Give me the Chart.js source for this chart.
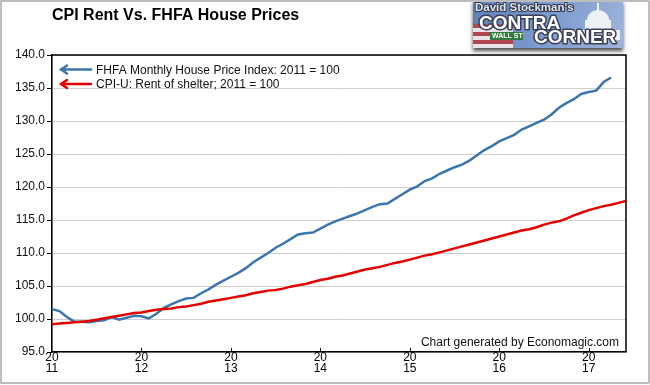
<!DOCTYPE html>
<html>
<head>
<meta charset="utf-8">
<script src="https://cdn.jsdelivr.net/npm/chart.js@4.4.0/dist/chart.umd.min.js"></script>
<style>
  body { margin: 0; background: #fff; }
  canvas { display: block; }
</style>
</head>
<body>
<canvas id="myChart" width="650" height="385"></canvas>
<script>
// x axis: monthly, Jan 2011 .. Jun 2017
var years = ['2011', '2012', '2013', '2014', '2015', '2016', '2017'];
var monthNums = ['01', '02', '03', '04', '05', '06', '07', '08', '09', '10', '11', '12'];
var months = [];
years.forEach(function (y) {
  monthNums.forEach(function (m) {
    if (months.length < 78) months.push(y + '-' + m);
  });
});

var yTicks = [95, 100, 105, 110, 115, 120, 125, 130, 135, 140];

var fhfaLabel = 'FHFA Monthly House Price Index: 2011 = 100';
var cpiLabel = 'CPI-U: Rent of shelter; 2011 = 100';

// FHFA house price index, 2011 = 100 (ends Apr 2017)
var fhfa = [
  101.5, 101.2, 100.3, 99.6, 99.6, 99.5, 99.7, 99.8, 100.3, 99.9, 100.2, 100.5,
  100.4, 100.1, 100.8, 101.7, 102.2, 102.7, 103.1, 103.2, 103.9, 104.5, 105.2, 105.8,
  106.4, 107.0, 107.7, 108.6, 109.3, 110.0, 110.8, 111.4, 112.1, 112.8, 113.0, 113.1,
  113.7, 114.3, 114.8, 115.2, 115.6, 116.0, 116.5, 117.0, 117.4, 117.5, 118.2, 118.9,
  119.6, 120.1, 120.9, 121.3, 122.0, 122.5, 123.0, 123.4, 124.0, 124.8, 125.6, 126.2,
  126.9, 127.4, 127.9, 128.7, 129.2, 129.7, 130.2, 131.0, 132.0, 132.7, 133.3, 134.1,
  134.4, 134.6, 135.9, 136.6
];

// CPI-U rent of shelter, 2011 = 100
var cpiRent = [
  99.2, 99.3, 99.4, 99.5, 99.6, 99.7, 99.9, 100.1, 100.3, 100.5, 100.7, 100.9,
  101.0, 101.2, 101.4, 101.5, 101.6, 101.8, 101.9, 102.1, 102.3, 102.6, 102.8, 103.0,
  103.2, 103.4, 103.6, 103.9, 104.1, 104.3, 104.4, 104.6, 104.9, 105.1, 105.3, 105.6,
  105.9, 106.1, 106.4, 106.6, 106.9, 107.2, 107.5, 107.7, 107.9, 108.2, 108.5, 108.7,
  109.0, 109.3, 109.6, 109.8, 110.1, 110.4, 110.7, 111.0, 111.3, 111.6, 111.9, 112.2,
  112.5, 112.8, 113.1, 113.4, 113.6, 113.9, 114.3, 114.6, 114.8, 115.2, 115.7, 116.1,
  116.5, 116.8, 117.1, 117.3, 117.6, 117.9
];

var BLUE = '#3b76b1';
var RED = '#e50000';
var FONT = '"Liberation Sans", Arial, sans-serif';

Chart.defaults.font.family = FONT;
Chart.defaults.font.size = 12;
Chart.defaults.color = '#111';

function isJan(i) {
  return months[i] && months[i].slice(5) === '01';
}

function arrow(ctx, x1, x2, y, color) {
  ctx.strokeStyle = color;
  ctx.lineWidth = 2.5;
  ctx.lineCap = 'round';
  ctx.beginPath();
  ctx.moveTo(x2, y);
  ctx.lineTo(x1, y);
  ctx.moveTo(x1 + 6, y - 4);
  ctx.lineTo(x1, y);
  ctx.lineTo(x1 + 6, y + 4);
  ctx.stroke();
}

function drawLogo(ctx) {
  var x = 473, w = 150, h = 48;
  ctx.save();
  ctx.shadowColor = 'rgba(0,0,0,0.7)';
  ctx.shadowBlur = 4;
  ctx.shadowOffsetY = 3;
  var g = ctx.createLinearGradient(x, 0, x + w, h);
  g.addColorStop(0, '#5d7fb8');
  g.addColorStop(0.5, '#7c9bd0');
  g.addColorStop(1, '#9fb4d8');
  ctx.fillStyle = g;
  ctx.fillRect(x, 0, w, h);
  ctx.restore();

  // flag stripes bottom left
  ctx.save();
  ctx.beginPath();
  ctx.rect(x, 24, 40, 24);
  ctx.clip();
  for (var i = 0; i < 6; i++) {
    ctx.fillStyle = i % 2 ? '#e8e2ea' : '#b0464f';
    ctx.fillRect(x, 24 + i * 4, 40, 4);
  }
  ctx.restore();

  // capitol
  ctx.fillStyle = '#eef1f6';
  ctx.beginPath();
  ctx.ellipse(598, 20, 11, 10, 0, Math.PI, 0);
  ctx.fill();
  ctx.fillRect(585, 20, 26, 18);
  ctx.fillRect(574, 30, 46, 10);
  ctx.fillRect(597, 3, 2, 8);

  // street sign
  ctx.fillStyle = '#2f7a3c';
  ctx.fillRect(490, 32, 33, 8);
  ctx.fillStyle = '#fff';
  ctx.font = 'bold 7px ' + FONT;
  ctx.textAlign = 'left';
  ctx.textBaseline = 'middle';
  ctx.fillText('WALL ST', 492, 36.5);

  ctx.lineJoin = 'round';
  ctx.font = 'bold 11.5px ' + FONT;
  ctx.strokeStyle = '#334';
  ctx.lineWidth = 2;
  ctx.textBaseline = 'alphabetic';
  ctx.strokeText("David Stockman's", 475, 11);
  ctx.fillStyle = '#dfe6f3';
  ctx.fillText("David Stockman's", 475, 11);

  ctx.font = 'bold 19px ' + FONT;
  ctx.lineWidth = 3;
  ctx.strokeStyle = '#3a3f55';
  ctx.strokeText('CONTRA', 479, 29);
  ctx.fillStyle = '#fff';
  ctx.fillText('CONTRA', 479, 29);
  ctx.strokeText('CORNER', 534, 43);
  ctx.fillText('CORNER', 534, 43);
}

var decor = {
  id: 'decor',
  afterDraw: function (chart) {
    var ctx = chart.ctx;
    var a = chart.chartArea;
    var xs = chart.scales.x;
    ctx.save();

    // plot frame top/right
    ctx.strokeStyle = '#000';
    ctx.lineWidth = 1.5;
    ctx.beginPath();
    ctx.moveTo(a.left, a.top);
    ctx.lineTo(a.right, a.top);
    ctx.lineTo(a.right, a.bottom);
    ctx.stroke();

    // inward x ticks at each January
    ctx.lineWidth = 1;
    ctx.beginPath();
    months.forEach(function (m, i) {
      if (isJan(i) && i > 0) {
        var px = Math.round(xs.getPixelForValue(i)) + 0.5;
        ctx.moveTo(px, a.bottom);
        ctx.lineTo(px, a.bottom - 4);
      }
    });
    ctx.stroke();

    // legend
    arrow(ctx, 61, 91, 69.5, BLUE);
    arrow(ctx, 61, 91, 84, RED);
    ctx.fillStyle = '#111';
    ctx.font = '12px ' + FONT;
    ctx.textAlign = 'left';
    ctx.textBaseline = 'alphabetic';
    ctx.fillText(fhfaLabel, 96, 73.5);
    ctx.fillText(cpiLabel, 96, 88);

    // footer
    ctx.textAlign = 'right';
    ctx.fillText('Chart generated by Economagic.com', 619, 346);

    // title
    ctx.textAlign = 'left';
    ctx.fillStyle = '#000';
    ctx.font = 'bold 16px ' + FONT;
    ctx.fillText('CPI Rent Vs. FHFA House Prices', 52, 19.5);

    drawLogo(ctx);

    // outer frame
    ctx.strokeStyle = '#bdbdbd';
    ctx.lineWidth = 2;
    ctx.strokeRect(1, 1, 648, 382);
    ctx.restore();
  }
};

var ctx = document.getElementById('myChart').getContext('2d');
var chart = new Chart(ctx, {
  type: 'line',
  data: {
    labels: months,
    datasets: [{
      label: cpiLabel,
      data: cpiRent,
      borderColor: RED,
      borderWidth: 2.5,
      pointRadius: 0,
      fill: false
    }, {
      label: fhfaLabel,
      data: fhfa,
      borderColor: BLUE,
      borderWidth: 2.5,
      pointRadius: 0,
      fill: false
    }]
  },
  options: {
    responsive: false,
    devicePixelRatio: 1,
    animation: false,
    layout: {
      padding: { top: 55, right: 24, left: 0, bottom: 0 }
    },
    scales: {
      x: {
        type: 'category',
        offset: false,
        afterFit: function (scale) { scale.height = 33; },
        border: { color: '#000', width: 1.5 },
        grid: {
          drawTicks: false,
          color: function (c) { return isJan(c.index) ? '#cfcfcf' : 'rgba(0,0,0,0)'; },
          lineWidth: 1
        },
        ticks: {
          autoSkip: false,
          maxRotation: 0,
          padding: 1,
          color: '#000',
          font: { size: 12, lineHeight: 0.85 },
          callback: function (value, index) {
            var lab = months[index];
            if (!isJan(index)) return null;
            return [lab.slice(0, 2), lab.slice(2, 4)];
          }
        }
      },
      y: {
        min: yTicks[0],
        max: yTicks[yTicks.length - 1],
        afterFit: function (scale) { scale.width = 52; },
        border: { color: '#000', width: 1.5 },
        grid: {
          color: '#cfcfcf',
          tickColor: '#000',
          tickLength: 5
        },
        ticks: {
          stepSize: 5,
          padding: 2,
          color: '#111',
          callback: function (v) { return v.toFixed(1); }
        }
      }
    },
    plugins: {
      legend: { display: false },
      title: { display: false },
      tooltip: { enabled: false }
    }
  },
  plugins: [decor]
});
</script>
</body>
</html>
